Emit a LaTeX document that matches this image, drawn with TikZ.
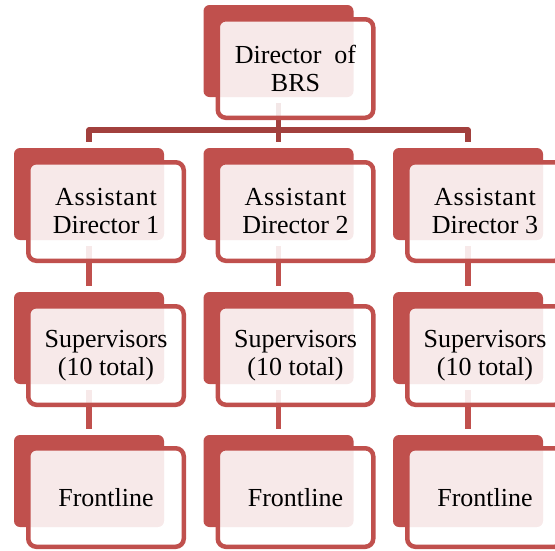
\documentclass[tikz,border=0pt]{standalone}
\usepackage{fontspec}
\setmainfont{Liberation Serif}
\newfontfamily\spacedfont[LetterSpace=3]{Liberation Serif}
\definecolor{boxred}{HTML}{C0504D}
\definecolor{linkred}{HTML}{A2403D}
\tikzset{
	backbox/.style={fill=boxred, rounded corners=6pt, minimum width=150pt, minimum height=92pt, inner sep=0pt},
	frontbox/.style={draw=boxred, line width=4.5pt, fill=white, fill opacity=.88, text opacity=1, rounded corners=8pt,
		minimum width=155.5pt, minimum height=98.5pt, inner sep=0pt, align=center, font=\fontsize{26}{28}\selectfont},
	toplink/.style={draw=linkred, line width=5.5pt, line join=round},
	sublink/.style={draw=boxred, line width=5.5pt},
}
\begin{document}
\begin{tikzpicture}[x=1pt, y=-1pt]
	\useasboundingbox (0,0) rectangle (555,550) ;
	\clip (0,0) rectangle (555,550) ;
	% back boxes
	\node[backbox] (dirb) at (278.5, 51) {} ;
	\node[backbox] (a1b) at (89, 194) {} ;
	\node[backbox] (a2b) at (278.5, 194) {} ;
	\node[backbox] (a3b) at (468, 194) {} ;
	\node[backbox] (s1b) at (89, 338) {} ;
	\node[backbox] (s2b) at (278.5, 338) {} ;
	\node[backbox] (s3b) at (468, 338) {} ;
	\node[backbox] (f1b) at (89, 481) {} ;
	\node[backbox] (f2b) at (278.5, 481) {} ;
	\node[backbox] (f3b) at (468, 481) {} ;
	% links
	\draw[toplink] ([yshift=-6pt]dirb.south) -- ([yshift=6pt]a2b.north) ;
	\draw[toplink] ([yshift=6pt]a1b.north) |- ([yshift=-33pt]dirb.south) -| ([yshift=6pt]a3b.north) ;
	\draw[sublink] ([yshift=-6pt]a1b.south) -- ([yshift=6pt]s1b.north) ;
	\draw[sublink] ([yshift=-6pt]a2b.south) -- ([yshift=6pt]s2b.north) ;
	\draw[sublink] ([yshift=-6pt]a3b.south) -- ([yshift=6pt]s3b.north) ;
	\draw[sublink] ([yshift=-6pt]s1b.south) -- ([yshift=6pt]f1b.north) ;
	\draw[sublink] ([yshift=-6pt]s2b.south) -- ([yshift=6pt]f2b.north) ;
	\draw[sublink] ([yshift=-6pt]s3b.south) -- ([yshift=6pt]f3b.north) ;
	% front boxes
	\node[frontbox] (dir) at (295.5, 68.5) {Director \ of\\BRS} ;
	\node[frontbox] (a1) at (106, 211.5) {{\spacedfont Assistant}\\Director 1} ;
	\node[frontbox] (a2) at (295.5, 211.5) {{\spacedfont Assistant}\\Director 2} ;
	\node[frontbox] (a3) at (485, 211.5) {{\spacedfont Assistant}\\Director 3} ;
	\node[frontbox] (s1) at (106, 355.5) {Supervisors\\(10 total)} ;
	\node[frontbox] (s2) at (295.5, 355.5) {Supervisors\\(10 total)} ;
	\node[frontbox] (s3) at (485, 355.5) {Supervisors\\(10 total)} ;
	\node[frontbox] (f1) at (106, 497.5) {Frontline} ;
	\node[frontbox] (f2) at (295.5, 497.5) {Frontline} ;
	\node[frontbox] (f3) at (485, 497.5) {Frontline} ;
\end{tikzpicture}
\end{document}
